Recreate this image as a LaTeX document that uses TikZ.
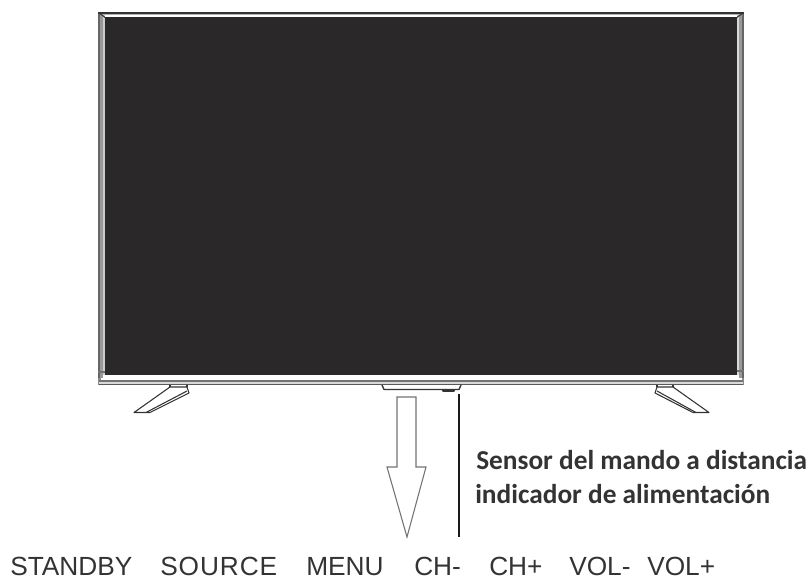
\documentclass[tikz,border=0pt]{standalone}
\usepackage{fontspec}
\setmainfont{Liberation Sans}
\newfontfamily\labelfont{Carlito}
\definecolor{screen}{HTML}{2A2829}
\definecolor{ink}{HTML}{333333}
\begin{document}
\begin{tikzpicture}[x=0.75pt,y=-0.75pt,
  keylabel/.style={anchor=base west,inner sep=0pt,font=\fontsize{19.7pt}{22pt}\selectfont,text=ink},
  sensorlabel/.style={anchor=base west,inner sep=0pt,font=\labelfont\bfseries\fontsize{20.5pt}{24pt}\selectfont,text=ink},
  stand/.style={draw=black!80,line width=0.8pt,fill=white,line join=round},
  frameline/.style={draw=black!55,line width=0.8pt}]
\useasboundingbox (0,0) rectangle (811,578);
% outer frame
\fill[black!45] (98,12) rectangle (744,385);
\fill[white] (100.5,14.5) rectangle (741.5,382.5);
\fill[black!60] (98,14) rectangle (100,378);
\fill[black!40] (100,14) rectangle (103,378);
\fill[black!20] (103,14) rectangle (105,378);
\fill[black!60] (742,14) rectangle (744,378);
\fill[black!40] (739,14) rectangle (742,378);
\fill[black!15] (737,14) rectangle (739,378);
\fill[black!80] (98,12) rectangle (744,14);
\fill[black!30] (100,14) rectangle (742,15);
\draw[black!80,line width=0.8pt] (99,13) -- (106,18) (743,13) -- (736,18);
\fill[white] (105,15) rectangle (737,17);
% screen
\fill[screen] (105,17) rectangle (737,375);
% bottom bezel
\fill[white] (103,375) rectangle (739,380);
\fill[black!55] (99,380) rectangle (743,381.5);
\fill[black!15] (99,381.5) rectangle (743,383.5);
\fill[black!65] (99,383.5) rectangle (743,385);
\draw[frameline] (98,372) -- (105,372) (737,371) -- (744,371);
% stands
\draw[stand] (170,387) -- (187,387) -- (189,393) -- (150,412.5) -- (134,412.5) -- cycle;
\draw[stand] (187,391) -- (146,412.5);
\draw[stand] (170,385) -- (170,387) (187,385) -- (187,387);
\draw[stand] (657,387) -- (673,387) -- (709,412.5) -- (693,412.5) -- (655,393) -- cycle;
\draw[stand] (657,391) -- (696,412.5);
\draw[stand] (657,385) -- (657,387) (673,385) -- (673,387);
% centre foot
\draw[stand,line width=1pt] (382,385) -- (384,389.5) -- (459,389.5) -- (461,385);
\draw[stand] (443,390) -- (443,391) -- (454,391) -- (454,390);
% arrow
\draw[draw=black!55,line width=0.8pt,fill=white,line join=miter]
  (397,397) -- (416,397) -- (416,467) -- (426,467) -- (407,537) -- (387,467) -- (397,467) -- cycle;
% sensor line
\coordinate (lineTop) at (459,394);
\coordinate (lineEnd) at (459,537);
\draw[black!90,line width=1.4pt] (lineTop) -- (lineEnd);
% texts
\node[sensorlabel] (sensor) at (476,469) {Sensor del mando a distancia};
\node[sensorlabel] (power) at (475,503) {indicador de alimentación};
\node[keylabel] (k1) at (10,575) {STANDBY};
\node[keylabel] (k2) at (160,575) {\addfontfeature{LetterSpace=3.5}SOURCE};
\node[keylabel] (k4) at (306,575) {MENU};
\node[keylabel] (k5) at (414,575) {CH-};
\node[keylabel] (k6) at (489,575) {CH+};
\node[keylabel] (k7) at (569,575) {VOL-};
\node[keylabel] (k8) at (647,575) {VOL+};
\end{tikzpicture}
\end{document}
